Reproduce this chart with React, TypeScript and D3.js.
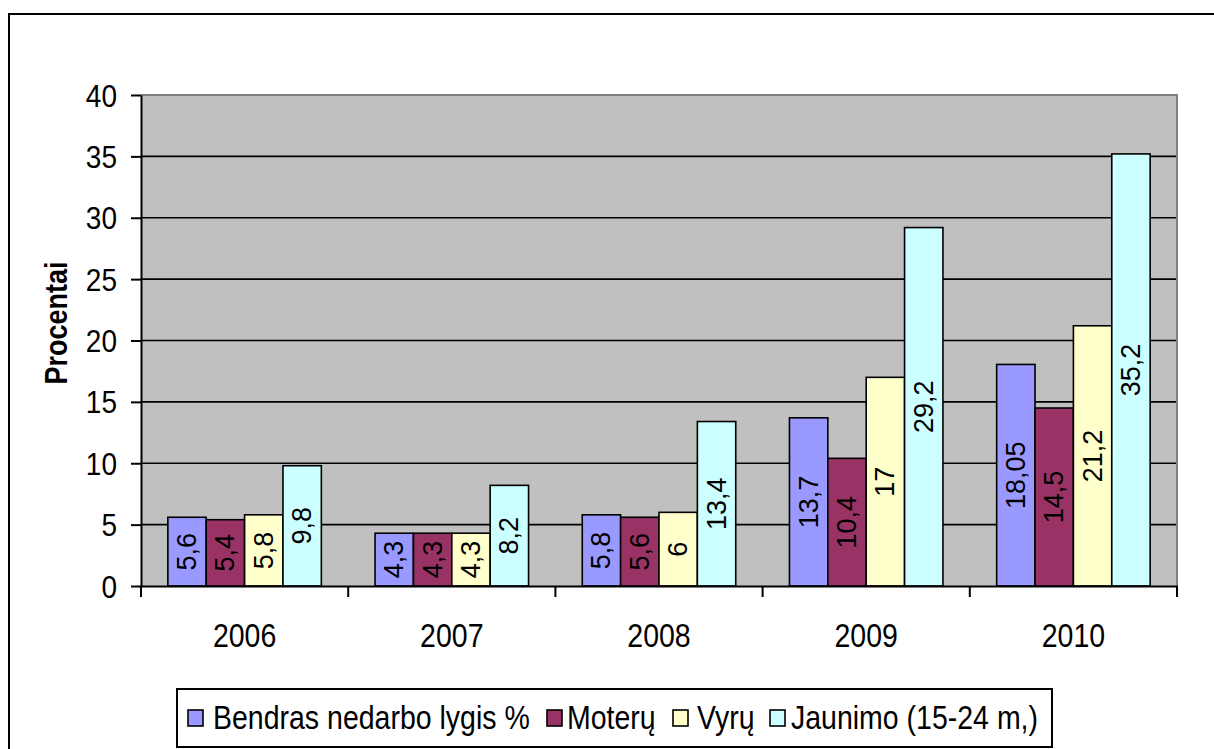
import React, { useEffect, useRef } from "react";
import { axisBottom, axisLeft, scaleBand, scaleLinear, select } from "d3";

// Chart values
const years = ["2006", "2007", "2008", "2009", "2010"];
const seriesNames = [
  "Bendras nedarbo lygis %",
  "Moterų",
  "Vyrų",
  "Jaunimo (15-24 m,)",
];
const bendras = [5.6, 4.3, 5.8, 13.7, 18.05];
const moteru = [5.4, 4.3, 5.6, 10.4, 14.5];
const vyru = [5.8, 4.3, 6, 17, 21.2];
const jaunimo = [9.8, 8.2, 13.4, 29.2, 35.2];
const yTicks = [0, 5, 10, 15, 20, 25, 30, 35, 40];

const seriesValues = [bendras, moteru, vyru, jaunimo];
const colors = ["#9999FF", "#993366", "#FFFFCC", "#CCFFFF"];

const W = 1214;
const H = 749;
const FONT = "'Liberation Sans', Arial, sans-serif";

// legend layout (swatch x, text x)
const legendSwatchX = [188, 547, 673, 770];
const legendTextX = [213, 567, 697, 791];

export default function App() {
  const ref = useRef<SVGSVGElement>(null);

  useEffect(() => {
    const svg = select(ref.current);
    svg.selectAll("*").remove();

    const plot = { left: 141, right: 1177, top: 95, bottom: 586 };
    const stretch = 1.15;

    // outer chart border
    svg
      .append("rect")
      .attr("x", 9)
      .attr("y", 14)
      .attr("width", W + 20)
      .attr("height", H + 20)
      .attr("fill", "white")
      .attr("stroke", "black")
      .attr("stroke-width", 2);

    const x0 = scaleBand<string>()
      .domain(years)
      .range([plot.left, plot.right])
      .padding(0);
    const x1 = scaleBand<number>()
      .domain([0, 1, 2, 3])
      .range([0, x0.bandwidth()])
      .paddingInner(0)
      .paddingOuter(0.7);
    const y = scaleLinear().domain([0, 40]).range([plot.bottom, plot.top]);

    // plot background
    svg
      .append("rect")
      .attr("x", plot.left)
      .attr("y", plot.top)
      .attr("width", plot.right - plot.left)
      .attr("height", plot.bottom - plot.top)
      .attr("fill", "#C0C0C0");

    // gridlines
    svg
      .append("g")
      .selectAll("line")
      .data(yTicks.filter((t) => t > 0 && t < 40))
      .join("line")
      .attr("x1", plot.left)
      .attr("x2", plot.right)
      .attr("y1", (d) => y(d))
      .attr("y2", (d) => y(d))
      .attr("stroke", "black")
      .attr("stroke-width", 1.6);

    // top & right plot border (grey)
    svg
      .append("path")
      .attr("d", `M${plot.left},${plot.top}H${plot.right}V${plot.bottom}`)
      .attr("fill", "none")
      .attr("stroke", "#808080")
      .attr("stroke-width", 2);

    // bars
    const groups = svg
      .append("g")
      .selectAll("g")
      .data(years)
      .join("g")
      .attr("transform", (d) => `translate(${x0(d)},0)`);

    groups
      .selectAll("rect")
      .data((_, i) => seriesValues.map((s, si) => ({ si, v: s[i] })))
      .join("rect")
      .attr("x", (d) => x1(d.si)!)
      .attr("y", (d) => y(d.v))
      .attr("width", x1.bandwidth())
      .attr("height", (d) => y(0) - y(d.v))
      .attr("fill", (d) => colors[d.si])
      .attr("stroke", "black")
      .attr("stroke-width", 1.6);

    groups
      .selectAll("text")
      .data((_, i) => seriesValues.map((s, si) => ({ si, v: s[i] })))
      .join("text")
      .attr(
        "transform",
        (d) =>
          `translate(${x1(d.si)! + x1.bandwidth() / 2},${(y(d.v) + y(0)) / 2}) rotate(-90)`
      )
      .attr("text-anchor", "middle")
      .attr("dominant-baseline", "central")
      .attr("font-family", FONT)
      .attr("font-size", 27)
      .attr("fill", "black")
      .text((d) => String(d.v).replace(".", ","));

    // y axis
    const yAxis = svg
      .append("g")
      .attr("transform", `translate(${plot.left},0)`)
      .call(
        axisLeft(y)
          .tickValues(yTicks)
          .tickSize(10)
          .tickSizeOuter(0)
          .tickFormat(() => "")
      );
    yAxis.select(".domain").attr("stroke", "black").attr("stroke-width", 2);
    yAxis.selectAll(".tick line").attr("stroke", "black").attr("stroke-width", 2);

    svg
      .append("g")
      .selectAll("text")
      .data(yTicks)
      .join("text")
      .attr("transform", (d) => `translate(117,${y(d) + 11.5}) scale(1,${stretch})`)
      .attr("text-anchor", "end")
      .attr("font-family", FONT)
      .attr("font-size", 28)
      .text((d) => d);

    // x axis
    const xAxis = svg
      .append("g")
      .attr("transform", `translate(0,${plot.bottom})`)
      .call(axisBottom(x0).tickSize(0).tickFormat(() => ""));
    xAxis.select(".domain").attr("stroke", "black").attr("stroke-width", 2);
    xAxis.selectAll(".tick").remove();

    const bounds = years.map((d) => x0(d)!).concat([plot.right]);
    svg
      .append("g")
      .selectAll("line")
      .data(bounds)
      .join("line")
      .attr("x1", (d) => d)
      .attr("x2", (d) => d)
      .attr("y1", plot.bottom)
      .attr("y2", plot.bottom + 11)
      .attr("stroke", "black")
      .attr("stroke-width", 2);

    svg
      .append("g")
      .selectAll("text")
      .data(years)
      .join("text")
      .attr(
        "transform",
        (d) => `translate(${x0(d)! + x0.bandwidth() / 2},647) scale(1,${stretch})`
      )
      .attr("text-anchor", "middle")
      .attr("font-family", FONT)
      .attr("font-size", 28.5)
      .text((d) => d);

    // y axis title
    svg
      .append("text")
      .attr("transform", `translate(67,323) rotate(-90) scale(1,1.14)`)
      .attr("text-anchor", "middle")
      .attr("font-family", FONT)
      .attr("font-weight", "bold")
      .attr("font-size", 27)
      .text("Procentai");

    // legend
    const legend = svg.append("g");
    legend
      .append("rect")
      .attr("x", 177)
      .attr("y", 689)
      .attr("width", 1052 - 177)
      .attr("height", 747 - 689)
      .attr("fill", "white")
      .attr("stroke", "black")
      .attr("stroke-width", 2);

    seriesNames.forEach((name, i) => {
      legend
        .append("rect")
        .attr("x", legendSwatchX[i])
        .attr("y", 710)
        .attr("width", 15)
        .attr("height", 16)
        .attr("fill", colors[i])
        .attr("stroke", "black")
        .attr("stroke-width", 1.6);
      legend
        .append("text")
        .attr("transform", `translate(${legendTextX[i]},729) scale(1,${stretch})`)
        .attr("font-family", FONT)
        .attr("font-size", 28.5)
        .text(name);
    });
  }, []);

  return (
    <div style={{ position: "fixed", left: 0, top: 0 }}>
      <svg ref={ref} width={W} height={H} style={{ display: "block" }} />
    </div>
  );
}
